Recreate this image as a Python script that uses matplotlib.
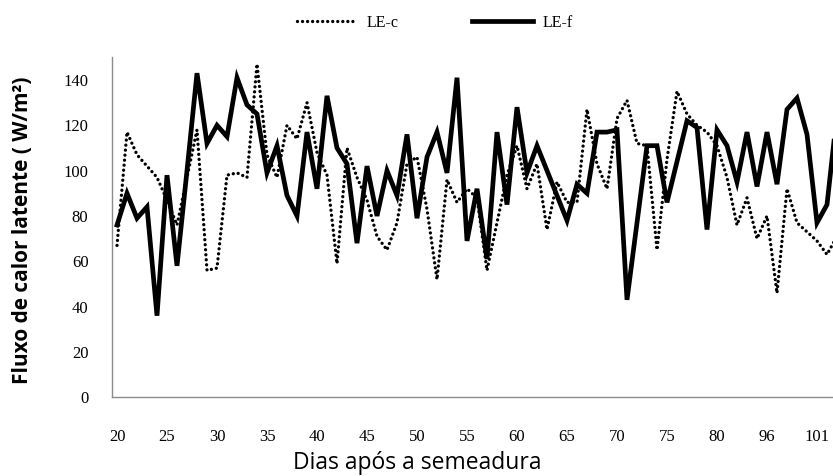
import matplotlib
matplotlib.use("Agg")
import matplotlib.pyplot as plt

# dias apos a semeadura (categorias do eixo x)
days = [20, 21, 22, 23, 24, 25, 26, 27, 28, 29, 30, 31, 32, 33, 34, 35, 36, 37, 38, 39,
        40, 41, 42, 43, 44, 45, 46, 47, 48, 49, 50, 51, 52, 53, 54, 55, 56, 57, 58, 59,
        60, 61, 62, 63, 64, 65, 66, 67, 68, 69, 70, 71, 72, 73, 74, 75, 76, 77, 78, 79,
        80, 81, 82, 83, 84, 96, 97, 98, 99, 100, 101, 102, 103]

le_c = [67, 117, 107, 102, 97, 87, 76, 97, 118, 56, 57, 98, 99, 97, 147, 107, 97, 120, 114, 130,
        108, 98, 59, 110, 97, 87, 71, 65, 77, 103, 106, 83, 52, 96, 86, 92, 88, 56, 77, 98,
        111, 92, 103, 74, 95, 86, 86, 127, 103, 92, 123, 131, 112, 111, 65, 105, 135, 125, 120, 117,
        111, 97, 76, 88, 70, 80, 46, 92, 77, 73, 69, 63, 71]

le_f = [76, 90, 79, 84, 36, 98, 58, 100, 143, 112, 120, 115, 141, 129, 125, 99, 111, 89, 80, 117,
        92, 133, 110, 103, 68, 102, 80, 100, 89, 116, 79, 106, 117, 99, 141, 69, 92, 61, 117, 85,
        128, 99, 111, 100, 89, 78, 94, 90, 117, 117, 118, 43, 77, 111, 111, 86, 104, 122, 119, 74,
        118, 111, 95, 117, 93, 117, 94, 127, 132, 116, 77, 85, 125]

fig = plt.figure(figsize=(8.33, 4.76), dpi=100)
# eixo recortado a direita, como no original
ax = fig.add_axes([112 / 833, 78.7 / 476, 1 - 112 / 833, 0.7143])

x = list(range(len(days)))
ax.plot(x, le_c, color="black", lw=2.4, linestyle=(0, (0.01, 1.5)),
        dash_capstyle="round", label="LE-c")
ax.plot(x, le_f, color="black", lw=3.4, solid_joinstyle="miter", label="LE-f")

ax.set_xlim(-0.5, 71.6)
ax.set_ylim(0, 150)

ax.set_xticks(x[::5])
ax.set_xticklabels([str(d) for d in days[::5]], family="Liberation Serif", fontsize=12)
ax.set_yticks(range(0, 141, 20))
ax.set_yticklabels([str(v) for v in range(0, 141, 20)], family="Liberation Serif", fontsize=12)
ax.tick_params(axis="both", length=0)
ax.tick_params(axis="x", pad=23)
ax.tick_params(axis="y", pad=17)

for s in ["top", "right"]:
    ax.spines[s].set_visible(False)
for s in ["left", "bottom"]:
    ax.spines[s].set_color("#8c8c8c")
    ax.spines[s].set_linewidth(1.0)

ax.set_xlabel("Dias após a semeadura", family="Open Sans", fontsize=16.5, va="center")
ax.xaxis.set_label_coords(0.423, -0.194)
ax.set_ylabel("Fluxo de calor latente ( W/m²)", family="Open Sans", fontsize=15,
              fontweight="bold", va="center")
ax.yaxis.set_label_coords(-0.124, 0.49)

fig.legend(loc="center", bbox_to_anchor=(0.522, 0.952), ncol=2, frameon=False,
           prop={"family": "Liberation Serif", "size": 11.5}, handlelength=3.8,
           columnspacing=4.6, handletextpad=0.6)

fig.savefig("out.png", dpi=100)
